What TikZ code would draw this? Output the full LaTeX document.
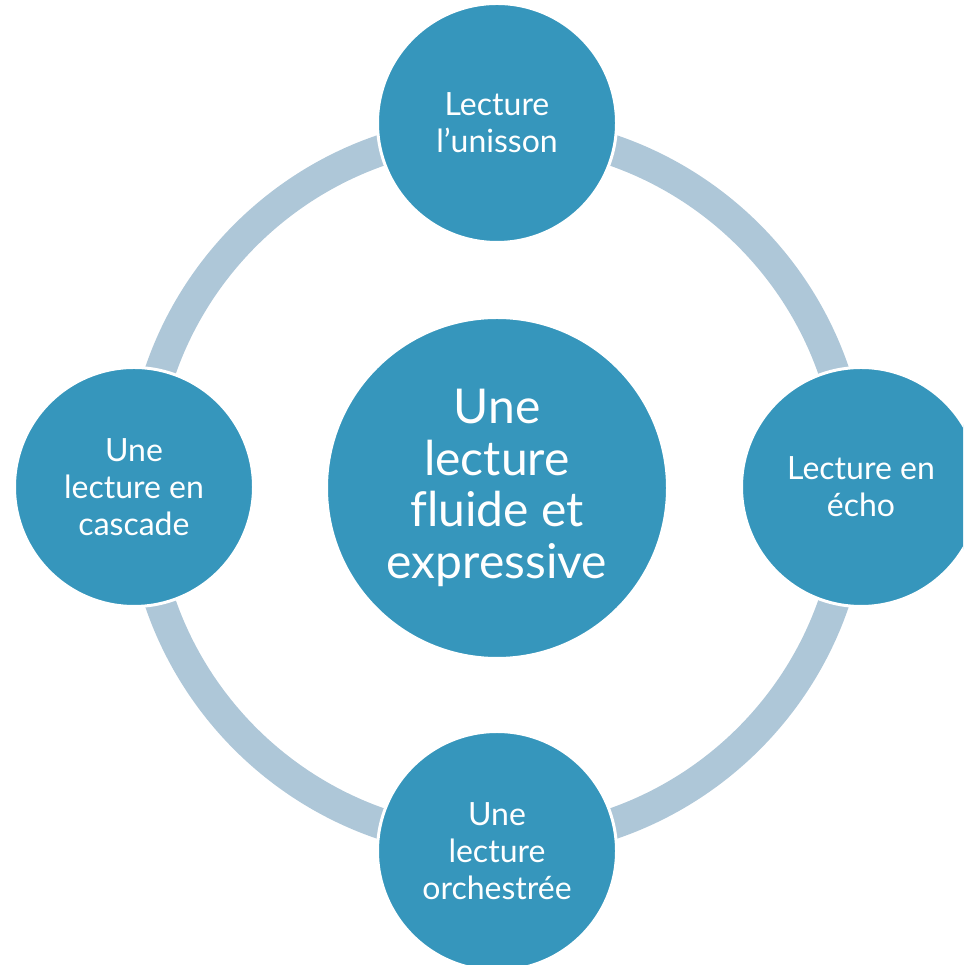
\documentclass[tikz,border=0pt]{standalone}
\usepackage{fontspec}
\setmainfont{Lato}[Ligatures=NoCommon]
\definecolor{nodeblue}{RGB}{54,150,188}
\definecolor{ringblue}{RGB}{174,199,216}
\tikzset{
  outernode/.style={circle, fill=nodeblue, draw=white, line width=3pt,
    minimum size=239pt, inner sep=0pt, text=white, align=center,
    font=\fontsize{32}{37}\selectfont},
  centernode/.style={circle, fill=nodeblue, draw=white, line width=3pt,
    minimum size=341pt, inner sep=0pt, text=white, align=center,
    font=\fontsize{48}{51.5}\selectfont},
  ring/.style={draw=ringblue, line width=31pt}
}
\begin{document}
\begin{tikzpicture}[x=1pt,y=1pt]
\useasboundingbox (0,0) rectangle (963,965);
\clip (0,0) rectangle (963,965);
\coordinate (c) at (497,478);
\draw[ring] (c) circle[radius=356];
\node[centernode] (mid) at (497,477) {Une\\lecture\\fluide et\\expressive};
\node[outernode] (top) at (497,842) {Lecture\\l’unisson};
\node[outernode] (right) at (861,478) {Lecture en\\écho};
\node[outernode] (bottom) at (497,114) {Une\\lecture\\orchestrée};
\node[outernode] (left) at (134,478) {Une\\lecture en\\cascade};
\end{tikzpicture}
\end{document}
